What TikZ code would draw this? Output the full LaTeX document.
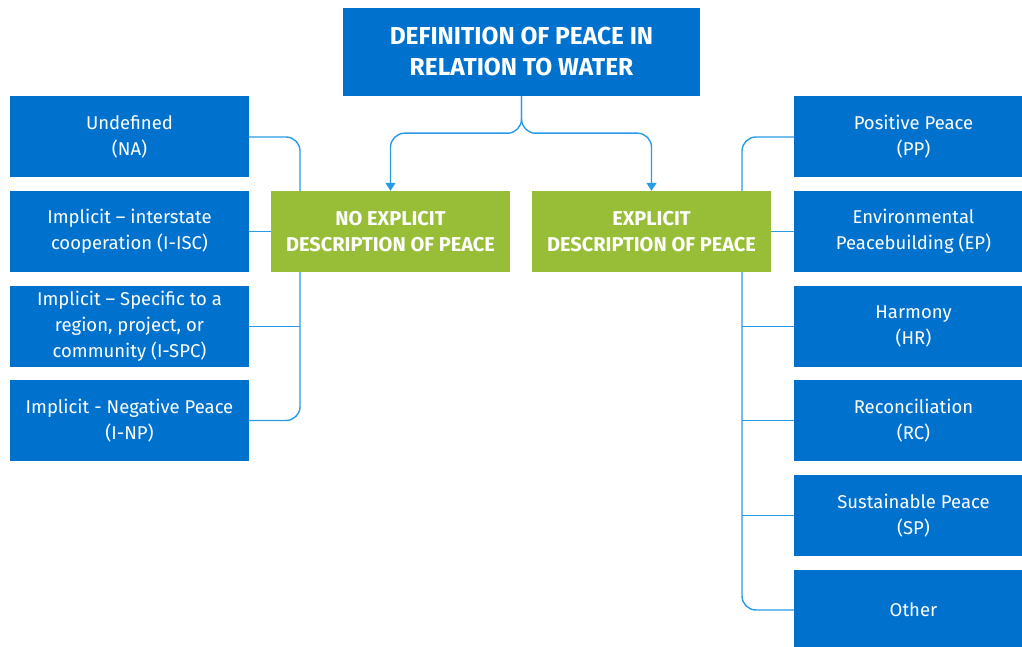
\documentclass[tikz,border=0pt]{standalone}
\usepackage{fontspec}
\setmainfont{Fira Sans}
\usetikzlibrary{positioning,backgrounds,arrows.meta}
\definecolor{boxblue}{RGB}{0,114,206}
\definecolor{boxgreen}{RGB}{151,190,54}
\definecolor{linkblue}{RGB}{40,155,230}

\begin{document}
\begin{tikzpicture}[x=1pt,y=-1pt,
    box/.style={fill=boxblue,text=white,minimum width=239pt,minimum height=81pt,
        inner sep=0pt,align=center,font=\fontsize{18.5}{26}\selectfont},
    groupbox/.style={box,fill=boxgreen,font=\fontsize{20}{26}\selectfont\bfseries},
    link/.style={linkblue,line width=1.4pt,rounded corners=14pt}]
    \useasboundingbox (0,0) rectangle (1022,647);

    % title
    \node[box,minimum width=357pt,minimum height=88pt,font=\fontsize{24.5}{31}\selectfont\bfseries]
        (title) at (521.5,52) {DEFINITION OF PEACE IN\\RELATION TO WATER};

    % the two groups
    \node[groupbox] (noexp) at (390.5,231.5) {NO EXPLICIT\\DESCRIPTION OF PEACE};
    \node[groupbox] (exp) at (651.5,231.5) {EXPLICIT\\DESCRIPTION OF PEACE};

    % left column
    \node[box] (na) at (129.5,137) {Undefined\\(NA)};
    \node[box] (isc) at (129.5,231.5) {Implicit -- interstate\\cooperation (I-ISC)};
    \node[box] (ispc) at (129.5,326.5) {Implicit -- Specific to a\\region, project, or\\community (I-SPC)};
    \node[box] (inp) at (129.5,420.5) {Implicit - Negative Peace\\(I-NP)};

    % right column, runs past the edge
    \node[box] (pp) at (913.5,137) {Positive Peace\\(PP)};
    \node[box] (ep) at (913.5,231.5) {Environmental\\Peacebuilding (EP)};
    \node[box] (hr) at (913.5,326.5) {Harmony\\(HR)};
    \node[box] (rc) at (913.5,420.5) {Reconciliation\\(RC)};
    \node[box] (sp) at (913.5,515.5) {Sustainable Peace\\(SP)};
    \node[box] (oth) at (913.5,610) {Other};

    \coordinate (lbus) at (300,280);
    \coordinate (rbus) at (742,370);

    \begin{scope}[on background layer]
        % title to groups
        \draw[link,-{Triangle[width=10pt,length=8pt]}] (title.south) -- ++(0,37) -| (noexp.north);
        \draw[link,-{Triangle[width=10pt,length=8pt]}] (title.south) -- ++(0,37) -| (exp.north);
        % left bracket
        \draw[link] (na.east) -| (lbus) |- (inp.east);
        \draw[link] (isc.east) -- (noexp.west);
        \draw[link] (ispc.east) -- (ispc.east -| lbus);
        % right bracket
        \draw[link] (pp.west) -| (rbus) |- (oth.west);
        \draw[link] (exp.east) -- (ep.west);
        \draw[link] (hr.west) -- (hr.west -| rbus);
        \draw[link] (rc.west) -- (rc.west -| rbus);
        \draw[link] (sp.west) -- (sp.west -| rbus);
    \end{scope}
\end{tikzpicture}
\end{document}
